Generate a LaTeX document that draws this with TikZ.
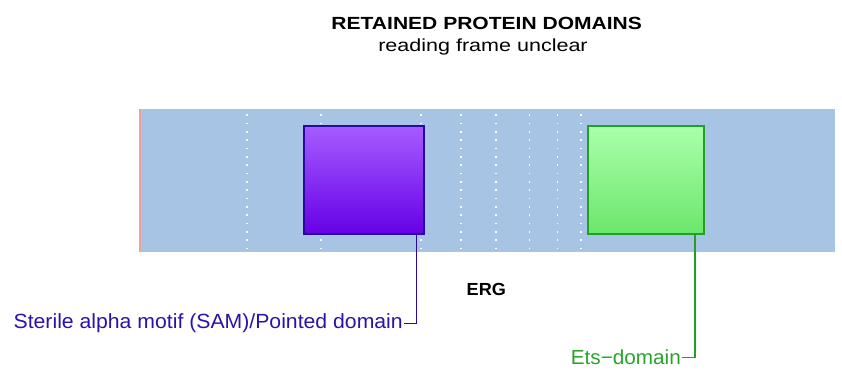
\documentclass[tikz,border=0pt]{standalone}
\usepackage{fontspec}
\setmainfont{Liberation Sans}
\definecolor{bandcol}{RGB}{168,196,228}
\definecolor{edgepink}{RGB}{240,160,160}
\definecolor{samtop}{RGB}{166,92,255}
\definecolor{sambot}{RGB}{102,0,230}
\definecolor{samedge}{RGB}{40,10,160}
\definecolor{samtext}{RGB}{40,20,170}
\definecolor{etstop}{RGB}{170,255,170}
\definecolor{etsbot}{RGB}{108,230,108}
\definecolor{etsedge}{RGB}{34,160,34}
\definecolor{etstext}{RGB}{40,165,40}
\tikzset{
  bandbox/.style={fill=bandcol, draw=none, inner sep=0pt, minimum width=695pt, minimum height=142.7pt},
  dotline/.style={white, line width=1.6pt, dash pattern=on 1.6pt off 6.73pt},
  dombox/.style={inner sep=0pt, line width=1.6pt, minimum height=107.7pt},
  lab/.style={inner sep=1pt},
  conn/.style={line width=1.5pt}
}
\begin{document}
\begin{tikzpicture}[x=1pt,y=-1pt]
\useasboundingbox (0,0) rectangle (842,374);
% titles
\node[lab, anchor=base, font=\bfseries\fontsize{17.6}{20}\selectfont] (title) at (486.7,30) {\scalebox{1.195}[1]{RETAINED PROTEIN DOMAINS}};
\node[lab, anchor=base, font=\fontsize{17.5}{20}\selectfont] (subtitle) at (483,51.5) {\scalebox{1.23}[1]{reading frame unclear}};
% band
\node[bandbox] (band) at (487.5,180.35) {};
\draw[edgepink, line width=1.5pt] (band.north west) -- (band.south west);
% dotted lines
\foreach \xx in {246.7,321,421,460.7,495.7,529.3,557.3,580.7}{
  \draw[dotline] (\xx,114.5) -- (\xx,249.5);
}
% domains
\node[dombox, minimum width=120.3pt, top color=samtop, bottom color=sambot, draw=samedge] (sam) at (363.85,180.15) {};
\node[dombox, minimum width=116pt, top color=etstop, bottom color=etsbot, draw=etsedge] (ets) at (645.7,180.15) {};
% gene name
\node[lab, anchor=base, font=\bfseries\fontsize{17.5}{20}\selectfont] (erg) at (486.3,295.5) {\scalebox{1.035}[1]{ERG}};
% labels
\node[lab, anchor=base east, text=samtext, font=\fontsize{20.5}{23}\selectfont] (samlabel) at (404,328.8) {\scalebox{1.035}[1]{Sterile alpha motif (SAM)/Pointed domain}};
\node[lab, anchor=base east, text=etstext, font=\fontsize{20.3}{23}\selectfont] (etslabel) at (682,364.6) {\scalebox{1.02}[1]{Ets\textminus domain}};
% connectors
\coordinate (samx) at (416.5,0);
\coordinate (etsx) at (695,0);
\draw[conn, samedge] (samlabel.east) -| (samx |- sam.south);
\draw[conn, etsedge] (etslabel.east) -| (etsx |- ets.south);
\end{tikzpicture}
\end{document}
